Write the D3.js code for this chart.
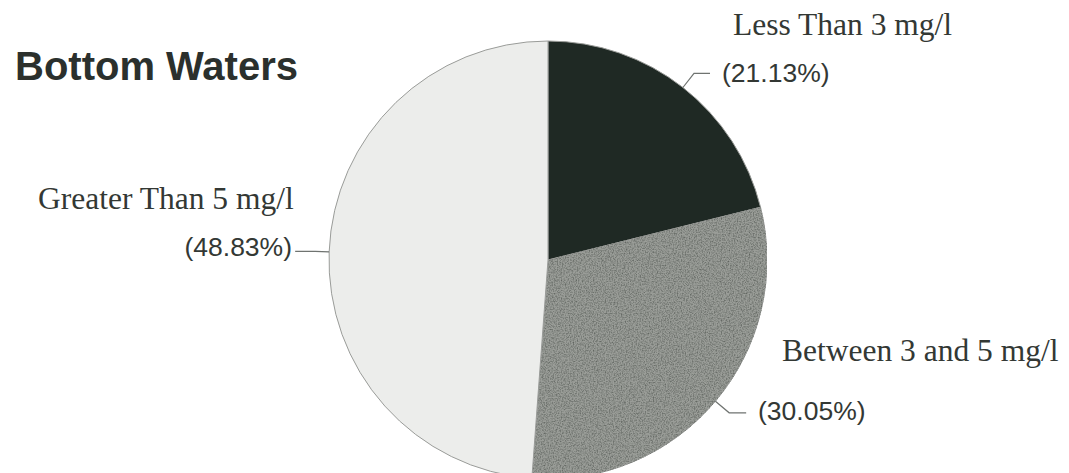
<!DOCTYPE html>
<html>
<head>
<meta charset="utf-8">
<script src="https://cdn.jsdelivr.net/npm/d3@7"></script>
<style>
  html, body { margin: 0; padding: 0; background: #fff; }
  svg { display: block; }
</style>
</head>
<body>
<svg id="chart" width="1069" height="473"></svg>
<script>
// Dissolved oxygen classes in bottom waters (percent of area)
const categories = ["Less Than 3 mg/l", "Between 3 and 5 mg/l", "Greater Than 5 mg/l"];
const shares = [21.13, 30.05, 48.83];
const shareLabels = ["(21.13%)", "(30.05%)", "(48.83%)"];
const sliceColors = ["#1f2924", "#9a9d98", "#ecedeb"];

const width = 1069, height = 473;
const cx = 548, cy = 260, r = 219;

const svg = d3.select("#chart");
const defs = svg.append("defs");

// Speckled print texture for the middle wedge
const grain = defs.append("filter").attr("id", "grain")
  .attr("color-interpolation-filters", "sRGB")
  .attr("x", 0).attr("y", 0).attr("width", 1).attr("height", 1);
grain.append("feTurbulence").attr("type", "fractalNoise")
  .attr("baseFrequency", 0.75).attr("numOctaves", 2).attr("seed", 4).attr("result", "noise");
grain.append("feColorMatrix").attr("in", "noise").attr("type", "matrix")
  .attr("values", "0 0 0 0 0.32  0 0 0 0 0.34  0 0 0 0 0.32  0 0 0 1.6 -0.62")
  .attr("result", "dots");
grain.append("feComposite").attr("in", "dots").attr("in2", "SourceGraphic")
  .attr("operator", "in").attr("result", "clipped");
const merge = grain.append("feMerge");
merge.append("feMergeNode").attr("in", "SourceGraphic");
merge.append("feMergeNode").attr("in", "clipped");

// Title
svg.append("text")
  .attr("x", 15).attr("y", 80)
  .attr("font-family", "'Liberation Sans', Arial, sans-serif")
  .attr("font-weight", "bold").attr("font-size", 40)
  .attr("fill", "#2b302d")
  .text("Bottom Waters");

const pie = d3.pie().sort(null).value(d => d)
  .startAngle(0).endAngle(2 * Math.PI);
const arcs = pie(shares);
const arc = d3.arc().innerRadius(0).outerRadius(r);

const g = svg.append("g").attr("transform", `translate(${cx},${cy})`);

g.selectAll("path.slice")
  .data(arcs)
  .join("path")
  .attr("class", "slice")
  .attr("d", arc)
  .attr("fill", (d, i) => sliceColors[i])
  .attr("filter", (d, i) => i === 1 ? "url(#grain)" : null)
  .attr("stroke", "#9a9c99")
  .attr("stroke-width", 1);

// Leader lines: radial stub from the wedge edge, then a short horizontal run
const leaderOut = [18, 18, 14];
const leaderRun = [16, 17, 20];
const pointOn = (a, rad) => [rad * Math.sin(a), -rad * Math.cos(a)];

arcs.forEach((d, i) => {
  const a = (d.startAngle + d.endAngle) / 2;
  const p1 = pointOn(a, r);
  const p2 = pointOn(a, r + leaderOut[i]);
  const side = Math.sin(a) >= 0 ? 1 : -1;
  const p3 = [p2[0] + side * leaderRun[i], p2[1]];
  g.append("polyline")
    .attr("points", [p1, p2, p3].map(p => p.join(",")).join(" "))
    .attr("fill", "none")
    .attr("stroke", "#6f7370")
    .attr("stroke-width", 1.2);
});

// Labels: category name (serif) and share (sans) per wedge
const namePos = [[733, 35], [782, 361], [38, 209]];
const sharePos = [[722, 82], [758, 420], [292, 256]];
const shareAnchor = ["start", "start", "end"];

categories.forEach((name, i) => {
  svg.append("text")
    .attr("x", namePos[i][0]).attr("y", namePos[i][1])
    .attr("font-family", "'Liberation Serif', 'Times New Roman', serif")
    .attr("font-size", 31.5)
    .attr("fill", "#333834")
    .text(name);
  svg.append("text")
    .attr("x", sharePos[i][0]).attr("y", sharePos[i][1])
    .attr("text-anchor", shareAnchor[i])
    .attr("font-family", "'Liberation Sans', Arial, sans-serif")
    .attr("font-size", 26.5)
    .attr("fill", "#333834")
    .text(shareLabels[i]);
});
</script>
</body>
</html>
